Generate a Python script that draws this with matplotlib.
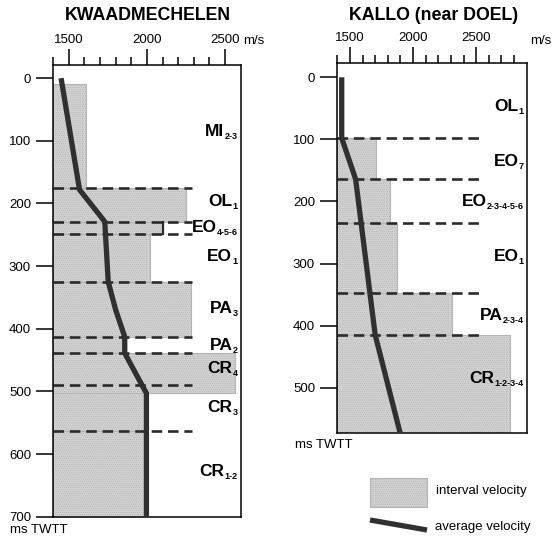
import matplotlib
matplotlib.use("Agg")
import matplotlib.pyplot as plt
from matplotlib.patches import Rectangle
from matplotlib.lines import Line2D
from matplotlib import transforms

plt.rcParams['font.family'] = ['Liberation Sans', 'DejaVu Sans']
plt.rcParams['hatch.linewidth'] = 0.5

# KWAADMECHELEN well
kw_tops = [176, 229, 248, 325, 413, 439, 490, 563]          # formation boundaries (ms TWTT)
kw_int_top = [9, 176, 229, 248, 325, 413, 439, 503, 563]
kw_int_base = [176, 229, 248, 325, 413, 439, 503, 563, 700]
kw_int_vel = [1610, 2250, 2105, 2020, 2285, 1840, 2565, 1990, 1990]
kw_avg_t = [0, 178, 229, 325, 370, 413, 439, 503, 700]
kw_avg_v = [1450, 1568, 1730, 1752, 1800, 1858, 1858, 1997, 1997]
kw_units = ['MI', 'OL', 'EO', 'EO', 'PA', 'PA', 'CR', 'CR', 'CR']
kw_subs = ['2-3', '1', '4-5-6', '1', '3', '2', '4', '3', '1-2']
kw_label_t = [85, 197, 239, 285, 367, 426, 463, 525, 628]

# KALLO (near DOEL) well
ka_tops = [97, 164, 235, 348, 415]
ka_int_top = [97, 164, 235, 348, 415]
ka_int_base = [164, 235, 348, 415, 575]
ka_int_vel = [1710, 1815, 1870, 2310, 2770]
ka_avg_t = [0, 98, 164, 415, 575]
ka_avg_v = [1435, 1435, 1545, 1700, 1900]
ka_units = ['OL', 'EO', 'EO', 'EO', 'PA', 'CR']
ka_subs = ['1', '7', '2-3-4-5-6', '1', '2-3-4', '1-2-3-4']
ka_label_t = [47, 136, 200, 289, 383, 485]

GREY = '#d3d3d3'
EDGE = '#b4b4b4'
DARK = '#2b2b2b'
LINE = '#303030'

fig = plt.figure(figsize=(5.59, 5.38), dpi=100)
renderer = fig.canvas.get_renderer()


def fx(px):
    return px / 559.0


def fy(px):
    return 1 - px / 538.0


def layer_label(ax, t, unit, sub):
    base = transforms.blended_transform_factory(ax.transAxes, ax.transData)
    edge = transforms.offset_copy(base, fig=fig, x=-3, y=-5, units='dots')
    s = ax.text(1, t, sub, transform=edge, ha='right', va='center',
                fontsize=6.5, fontweight='bold', zorder=5)
    w = s.get_window_extent(renderer).width
    main = transforms.offset_copy(base, fig=fig, x=-3 - w, units='dots')
    ax.text(1, t, unit, transform=main, ha='right', va='center',
            fontsize=12.5, fontweight='bold', zorder=5)


def draw_well(ax, xmax, ylim, yticks, tops, dash_end, itop, ibase, ivel,
              avg_t, avg_v, units, subs, label_t):
    ax.set_xlim(1400, xmax)
    ax.set_ylim(*ylim)

    for t0, t1, v in zip(itop, ibase, ivel):
        ax.add_patch(Rectangle((1400, t0), v - 1400, t1 - t0, facecolor=GREY,
                               edgecolor=EDGE, hatch='........', lw=0.8, zorder=1))

    for t in tops:
        ax.plot([1400, dash_end], [t, t], color=DARK, lw=1.9,
                dashes=[4, 2.2], solid_capstyle='butt', zorder=2)

    ax.plot(avg_v, avg_t, color=LINE, lw=3.8, solid_joinstyle='miter',
            solid_capstyle='butt', zorder=3)

    for t, u, s in zip(label_t, units, subs):
        layer_label(ax, t, u, s)

    ax.xaxis.tick_top()
    ax.set_xticks([1500, 2000, 2500])
    ax.set_xticks(range(1400, xmax, 100), minor=True)
    ax.set_yticks(yticks)
    ax.tick_params(axis='x', which='major', length=11.5, width=1.1, pad=2,
                   labelsize=9.5, direction='out')
    ax.tick_params(axis='x', which='minor', length=5.5, width=1.1, direction='out')
    ax.tick_params(axis='y', which='major', length=12.5, width=1.1, pad=3.5,
                   labelsize=9.5, direction='out')
    for sp in ax.spines.values():
        sp.set_linewidth(1.1)


ax1 = fig.add_axes([fx(53.3), fy(516.7), fx(240.5 - 53.3), (516.7 - 65) / 538.0])
draw_well(ax1, 2600, (700, -21), range(0, 701, 100), kw_tops, 2290,
          kw_int_top, kw_int_base, kw_int_vel, kw_avg_t, kw_avg_v,
          kw_units, kw_subs, kw_label_t)
# right edge of the EO4-5-6 interval box
ax1.plot([kw_int_vel[2], kw_int_vel[2]], [kw_int_top[2], kw_int_base[2]],
         color=DARK, lw=1.6, zorder=2)

ax2 = fig.add_axes([fx(337.3), fy(433.3), fx(526.7 - 337.3), (433.3 - 62.7) / 538.0])
draw_well(ax2, 2900, (573.5, -23.5), range(0, 501, 100), ka_tops, 2530,
          ka_int_top, ka_int_base, ka_int_vel, ka_avg_t, ka_avg_v,
          ka_units, ka_subs, ka_label_t)

fig.text(fx(148), fy(16), 'KWAADMECHELEN', ha='center', va='center',
         fontsize=12.8, fontweight='bold')
fig.text(fx(434), fy(16), 'KALLO (near DOEL)', ha='center', va='center',
         fontsize=12.8, fontweight='bold')
fig.text(fx(243), fy(41), 'm/s', ha='left', va='center', fontsize=9.5)
fig.text(fx(530), fy(41), 'm/s', ha='left', va='center', fontsize=9.5)
fig.text(fx(10), fy(530), 'ms TWTT', ha='left', va='center', fontsize=9.5)
fig.text(fx(295), fy(445), 'ms TWTT', ha='left', va='center', fontsize=9.5)

# legend
fig.add_artist(Rectangle((fx(370), fy(506.7)), fx(56.7), 28.4 / 538.0,
                         transform=fig.transFigure, facecolor=GREY,
                         edgecolor=EDGE, hatch='........', lw=0.8))
fig.add_artist(Line2D([fx(370), fx(427)], [fy(520), fy(530)],
                      transform=fig.transFigure, color=LINE, lw=3.8,
                      solid_capstyle='butt'))
fig.text(fx(436), fy(491), 'interval velocity', ha='left', va='center', fontsize=9.5)
fig.text(fx(435), fy(527), 'average velocity', ha='left', va='center', fontsize=9.5)

fig.savefig('out.png', dpi=100)
